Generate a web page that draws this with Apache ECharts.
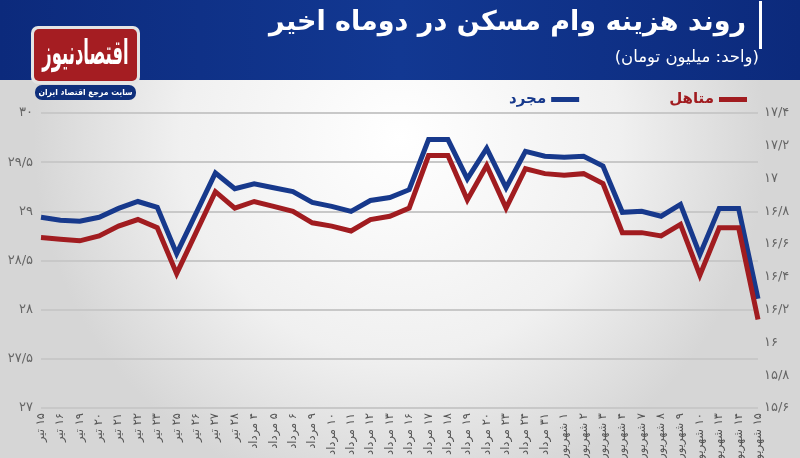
<!DOCTYPE html>
<html><head><meta charset="utf-8">
<script src="https://cdn.jsdelivr.net/npm/echarts@6/dist/echarts.min.js"></script>
<style>html,body{margin:0;padding:0;background:#fff}#c{width:800px;height:458px}</style>
</head><body><div id="c"></div>
<script>
const categories = ['۱۵ تیر','۱۶ تیر','۱۹ تیر','۲۰ تیر','۲۱ تیر','۲۲ تیر','۲۳ تیر','۲۵ تیر','۲۶ تیر','۲۷ تیر','۲۸ تیر',
'۴ مرداد','۵ مرداد','۶ مرداد','۹ مرداد','۱۰ مرداد','۱۱ مرداد','۱۲ مرداد','۱۳ مرداد','۱۶ مرداد','۱۷ مرداد','۱۸ مرداد','۱۹ مرداد','۲۰ مرداد','۲۳ مرداد','۲۴ مرداد','۳۱ مرداد',
'۱ شهریور','۲ شهریور','۳ شهریور','۴ شهریور','۷ شهریور','۸ شهریور','۹ شهریور','۱۰ شهریور','۱۳ شهریور','۱۴ شهریور','۱۵ شهریور'];
const singleValues = [28.94,28.91,28.90,28.94,29.03,29.10,29.04,28.57,28.98,29.39,29.23,29.28,29.24,29.20,29.09,29.05,29.00,29.11,29.14,29.22,29.73,29.73,29.33,29.64,29.24,29.61,29.56,29.55,29.56,29.46,28.99,29.00,28.95,29.07,28.56,29.03,29.03,28.11];
const marriedValues = [16.64,16.63,16.62,16.65,16.71,16.75,16.70,16.42,16.67,16.92,16.82,16.86,16.83,16.80,16.73,16.71,16.68,16.75,16.77,16.82,17.14,17.14,16.87,17.08,16.82,17.06,17.03,17.02,17.03,16.97,16.67,16.67,16.65,16.72,16.41,16.70,16.70,16.14];
const leftTickLabels = ['۲۷','۲۷/۵','۲۸','۲۸/۵','۲۹','۲۹/۵','۳۰'];
const rightTickLabels = ['۱۵/۶','۱۵/۸','۱۶','۱۶/۲','۱۶/۴','۱۶/۶','۱۶/۸','۱۷','۱۷/۲','۱۷/۴'];
const seriesNames = ['مجرد','متاهل'];
const titleText = 'روند هزینه وام مسکن در دوماه اخیر';
const subtitleText = '(واحد: میلیون تومان)';
const logoText = 'اقتصادنیوز';
const logoSub = 'سایت مرجع اقتصاد ایران';

const BLUE = '#17398c', RED = '#a11c20';
const FONT = "'DejaVu Sans', sans-serif";
const RTL = (s) => '\u202B' + s + '\u202C';
const chart = echarts.init(document.getElementById('c'), null, {renderer:'canvas'});
chart.setOption({
  animation:false,
  textStyle:{fontFamily:FONT},
  grid:{left:41, right:42, top:113, bottom:50, containLabel:false, outerBoundsMode:'none'},
  legend:{
    data:[{name:seriesNames[0], textStyle:{color:BLUE}},{name:seriesNames[1], textStyle:{color:RED}}],
    right:48, top:87, align:'right', itemWidth:28, itemHeight:5, itemGap:90, icon:'rect',
    textStyle:{fontSize:15, fontWeight:'bold', fontFamily:FONT}
  },
  xAxis:{
    type:'category', data:categories, boundaryGap:false,
    axisLine:{show:false}, axisTick:{show:false},
    axisLabel:{rotate:90, interval:0, fontSize:11.5, color:'#555', margin:5, fontFamily:FONT,
      formatter:(v)=>RTL(v)}
  },
  yAxis:[{
    type:'value', min:27, max:30, interval:0.5, position:'left',
    axisLine:{show:false}, axisTick:{show:false},
    splitLine:{lineStyle:{color:'#c8c8c8', width:2}},
    axisLabel:{color:'#666', fontSize:13, margin:8, fontFamily:FONT,
      formatter:(v)=>leftTickLabels[Math.round((v-27)/0.5)]}
  },{
    type:'value', min:15.6, max:17.4, interval:0.2, position:'right',
    axisLine:{show:false}, axisTick:{show:false}, splitLine:{show:false},
    axisLabel:{color:'#666', fontSize:13, margin:6, fontFamily:FONT,
      formatter:(v)=>rightTickLabels[Math.round((v-15.6)/0.2)]}
  }],
  series:[
    {name:seriesNames[0], type:'line', data:singleValues, yAxisIndex:0, symbol:'none',
     lineStyle:{color:BLUE, width:5, join:'miter'}, itemStyle:{color:BLUE}, z:3},
    {name:seriesNames[1], type:'line', data:marriedValues, yAxisIndex:1, symbol:'none',
     lineStyle:{color:RED, width:5, join:'miter'}, itemStyle:{color:RED}, z:3}
  ],
  graphic:[
    {type:'rect', z:-100, silent:true, shape:{x:0,y:0,width:800,height:458},
     style:{fill:{type:'radial', x:0.5, y:0.3, r:0.8, colorStops:[{offset:0,color:'#ffffff'},{offset:0.6,color:'#f0f0f0'},{offset:1,color:'#d6d6d6'}]}}},
    {type:'rect', z:100, silent:true, shape:{x:0,y:0,width:800,height:80},
     style:{fill:{type:'linear', x:0, y:0, x2:1, y2:0, colorStops:[{offset:0,color:'#0c2a7c'},{offset:0.5,color:'#123892'},{offset:1,color:'#0c2a7c'}]}}},
    {type:'rect', z:101, shape:{x:759,y:1,width:3,height:48}, style:{fill:'#ffffff'}},
    {type:'text', z:101, x:746, y:9, style:{text:titleText, fill:'#ffffff', font:"bold 27px "+FONT, textAlign:'right', textVerticalAlign:'top'}},
    {type:'text', z:101, x:759, y:49, style:{text:subtitleText, fill:'#ffffff', font:"16.5px "+FONT, textAlign:'right', textVerticalAlign:'top'}},
    {type:'rect', z:102, shape:{x:31,y:26,width:109,height:58,r:7}, style:{fill:'#e4e4e4'}},
    {type:'rect', z:103, shape:{x:34,y:29,width:103,height:52,r:5}, style:{fill:'#a51d22'}},
    {type:'text', z:104, x:85.5, y:55, scaleX:0.78, scaleY:1.6, originX:0, originY:0,
     style:{text:logoText, fill:'#ffffff', font:"bold 21px "+FONT, textAlign:'center', textVerticalAlign:'middle'}},
    {type:'rect', z:103, shape:{x:35,y:85,width:101,height:15,r:7}, style:{fill:'#0f2f7c'}},
    {type:'text', z:104, x:85.5, y:92.5, scaleX:0.9, scaleY:1, originX:0, originY:0,
     style:{text:logoSub, fill:'#ffffff', font:"bold 8.5px "+FONT, textAlign:'center', textVerticalAlign:'middle'}}
  ]
});
</script></body></html>
